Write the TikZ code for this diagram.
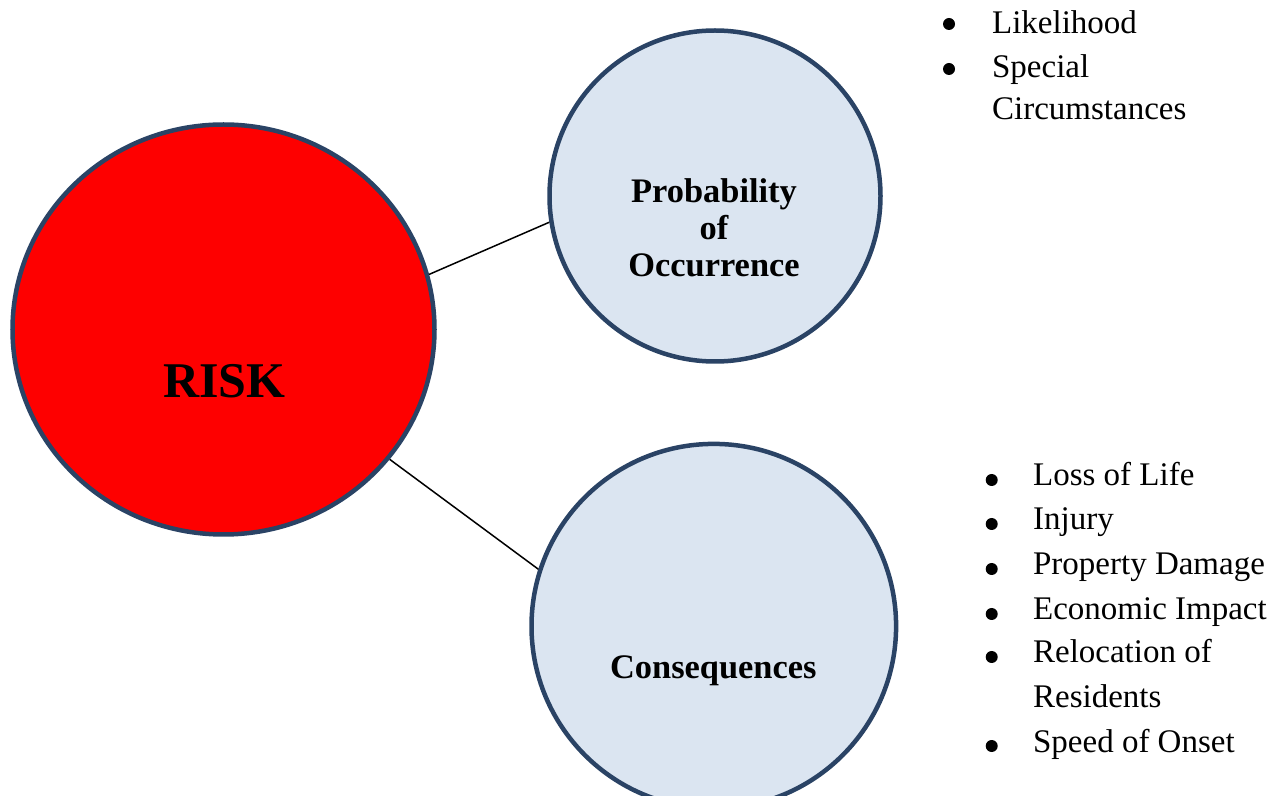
\documentclass[tikz,border=0pt]{standalone}
\usepackage{fontspec}
\setmainfont{Liberation Serif}
\usetikzlibrary{shapes.geometric}
\definecolor{ringblue}{HTML}{2A4365}
\definecolor{paleblue}{HTML}{DBE5F1}
\definecolor{riskred}{HTML}{FE0000}
\begin{document}
\begin{tikzpicture}[x=0.5pt,y=-0.5pt,
  ring/.style={line width=2.25pt, draw=ringblue, inner sep=0pt},
  headtxt/.style={font=\fontsize{17.2}{18.5}\selectfont\bfseries, anchor=base, inner sep=0pt},
  item/.style={font=\fontsize{16.5}{22}\selectfont, anchor=base west, inner sep=0pt},
  bul/.style={circle, fill=black, inner sep=0pt, minimum size=6pt},
  link/.style={draw=black, line width=0.75pt}]
\useasboundingbox (0,0) rectangle (1281,796);
\clip (0,0) rectangle (1281,796);
% circles
\node[ellipse, ring, fill=riskred, minimum width=211pt, minimum height=205pt] (risk) at (223.5,329.5) {};
\node[circle, ring, fill=paleblue, minimum size=165.5pt] (prob) at (715,196) {};
\node[circle, ring, fill=paleblue, minimum size=182.3pt] (cons) at (713.8,626.2) {};
% connectors
\draw[link] (risk.15) -- (prob.189);
\draw[link] (risk.-38) -- (cons.162);
% circle texts
\node[font=\fontsize{25}{30}\selectfont\bfseries, anchor=base, inner sep=0pt] (risktxt) at (224.5,398) {RISK};
\node[headtxt] (probtxta) at (714,203) {Probability};
\node[headtxt] (probtxtb) at (714,240) {of};
\node[headtxt] (probtxtc) at (714,277) {Occurrence};
\node[headtxt] (constxt) at (713.3,679) {Consequences};
% top list
\node[bul] (tb1) at (949,24) {};
\node[bul] (tb2) at (949,69) {};
\node[item] (ti1) at (991.7,33.3) {Likelihood};
\node[item] (ti2) at (991.7,78) {Special};
\node[item] (ti3) at (991.7,120) {Circumstances};
% bottom list
\node[bul] (bb1) at (991.7,480) {};
\node[bul] (bb2) at (991.7,524) {};
\node[bul] (bb3) at (991.7,569) {};
\node[bul] (bb4) at (991.7,614) {};
\node[bul] (bb5) at (991.7,657) {};
\node[bul] (bb6) at (991.7,746) {};
\node[item] (bi1) at (1032.7,486) {Loss of Life};
\node[item] (bi2) at (1032.7,530) {Injury};
\node[item] (bi3) at (1032.7,575) {Property Damage};
\node[item] (bi4) at (1032.7,620) {Economic Impact};
\node[item] (bi5) at (1032.7,663) {Relocation of};
\node[item] (bi6) at (1032.7,708) {Residents};
\node[item] (bi7) at (1032.7,752) {Speed of Onset};
\end{tikzpicture}
\end{document}
